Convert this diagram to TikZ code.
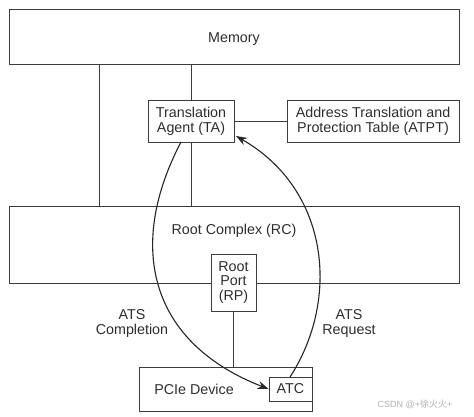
\documentclass[tikz,border=0pt]{standalone}
\usepackage{fontspec}
\setmainfont{Liberation Sans}
\newfontfamily\cjkfont{Noto Sans CJK SC}
\usetikzlibrary{arrows.meta}
\definecolor{ln}{HTML}{3C3C3C}
\definecolor{tx}{HTML}{2E2E2E}
\begin{document}
\begin{tikzpicture}[x=1pt,y=-1pt,
  box/.style={draw=ln, line width=0.9pt, fill=white, inner sep=0pt, align=center,
    text=tx, font=\fontsize{14.3}{14.8}\selectfont},
  wire/.style={draw=ln, line width=0.9pt},
  flow/.style={draw=black!85, line width=1.1pt, -{Stealth[length=11pt,width=8pt]}},
  lbl/.style={text=tx, align=center, font=\fontsize{14.3}{14.8}\selectfont}]
\useasboundingbox (0,0) rectangle (474,416);
\fill[white] (0,0) rectangle (474,416);
% boxes
\node[box, minimum width=450pt, minimum height=55pt, text depth=0pt,
  label={[lbl, yshift=-3pt]center:Memory}] (mem) at (234,36.5) {};
\node[box, minimum width=450pt, minimum height=77pt,
  label={[lbl, yshift=13.5pt]center:Root Complex (RC)}] (rc) at (234,244.5) {};
\node[box, minimum width=86pt, minimum height=42pt] (ta) at (191,121) {Translation\\Agent (TA)};
\node[box, minimum width=172pt, minimum height=42pt] (atpt) at (373,121) {Address Translation and\\Protection Table (ATPT)};
\node[box, minimum width=45pt, minimum height=57pt] (rp) at (233.5,282.5) {Root\\Port\\(RP)};
\node[box, minimum width=173pt, minimum height=44pt,
  label={[lbl, xshift=-31.5pt]center:PCIe Device}] (pcie) at (225.5,389) {};
\node[box, minimum width=43pt, minimum height=24pt] (atc) at (290.5,389) {ATC};
% wires
\coordinate (xa) at (99,0);
\draw[wire] (mem.south -| xa) -- (rc.north -| xa);
\draw[wire] (mem.south -| ta) -- (ta.north);
\draw[wire] (ta.south) -- (rc.north -| ta);
\draw[wire] (ta.east) -- (atpt.west);
\draw[wire] (rp.south) -- (pcie.north -| rp);
% flows
\coordinate (cs) at (181,142);
\draw[flow] (cs) .. controls (127,245) and (148,342) .. (atc.west);
\coordinate (rs) at (290,377);
\coordinate (re) at (236,136);
\draw[flow] (rs) .. controls (340,300) and (330,190) .. (re);
% labels
\node[lbl] (lc) at (132,323.5) {ATS\\Completion};
\node[lbl] (lr) at (349,323.5) {ATS\\Request};
\node[text=black!30, font=\fontsize{9}{10}\selectfont] (wm) at (415,404) {CSDN @+{\cjkfont 徐火火}+};
\end{tikzpicture}
\end{document}
